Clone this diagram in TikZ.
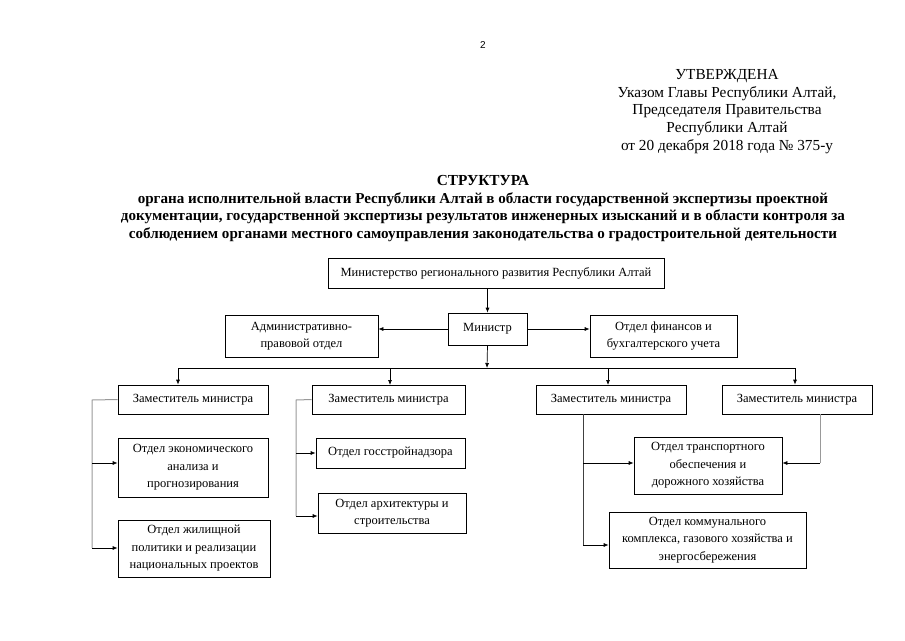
\documentclass[tikz,border=0pt]{standalone}
\usepackage{fontspec}
\setmainfont{Liberation Serif}
\setsansfont{Liberation Sans}
\usetikzlibrary{arrows.meta}
\begin{document}
\begin{tikzpicture}[x=1pt,y=-1pt,
  box/.style={draw=black,line width=0.7pt,rectangle,inner sep=0pt,align=center,font=\fontsize{12.5}{17.5}\selectfont},
  arr/.style={-{Latex[length=5pt,width=4pt]},line width=0.7pt},
  gline/.style={draw=gray!80,line width=1pt},
  hdr/.style={align=center,font=\fontsize{15.3}{17.6}\selectfont},
  ttl/.style={align=center,font=\bfseries\fontsize{15.1}{17.6}\selectfont}]
\path[use as bounding box,fill=white] (0,0) rectangle (905,640);
\node[font=\sffamily\fontsize{10}{10}\selectfont] (pg) at (483,45) {2};
\node[hdr,anchor=north] (appr) at (727,66) {УТВЕРЖДЕНА\\Указом Главы Республики Алтай,\\Председателя Правительства\\Республики Алтай\\от 20 декабря 2018 года № 375-у};
\node[ttl,anchor=north] (title) at (483,172) {\fontsize{15.3}{17.6}\selectfont СТРУКТУРА\\органа исполнительной власти Республики Алтай в области государственной экспертизы проектной\\документации, государственной экспертизы результатов инженерных изысканий и в области контроля за\\соблюдением органами местного самоуправления законодательства о градостроительной деятельности};

\node[box,minimum width=336pt,minimum height=30pt] (mr) at (496,273) {Министерство регионального развития Республики Алтай};
\node[box,minimum width=79pt,minimum height=32pt] (min) at (487.5,329) {Министр};
\node[box,minimum width=153pt,minimum height=42pt] (adm) at (301.5,336) {Административно-\\правовой отдел};
\node[box,minimum width=147pt,minimum height=42pt] (fin) at (663.5,336) {Отдел финансов и\\бухгалтерского учета};

\node[box,minimum width=150pt,minimum height=29pt] (z1) at (193,399.5) {Заместитель министра};
\node[box,minimum width=153pt,minimum height=29pt] (z2) at (388.5,399.5) {Заместитель министра};
\node[box,minimum width=150pt,minimum height=29pt] (z3) at (611,399.5) {Заместитель министра};
\node[box,minimum width=150pt,minimum height=29pt] (z4) at (797,399.5) {Заместитель министра};

\node[box,minimum width=150pt,minimum height=59pt] (econ) at (193,467.5) {Отдел экономического\\анализа и\\прогнозирования};
\node[box,minimum width=152pt,minimum height=57pt] (hous) at (194,548.5) {Отдел жилищной\\политики и реализации\\национальных проектов};
\node[box,minimum width=149pt,minimum height=30pt] (gos) at (390.5,453) {Отдел госстройнадзора};
\node[box,minimum width=148pt,minimum height=40pt] (arch) at (392,513) {Отдел архитектуры и\\строительства};
\node[box,minimum width=148pt,minimum height=57pt] (tran) at (708,465.5) {Отдел транспортного\\обеспечения и\\дорожного хозяйства};
\node[box,minimum width=197pt,minimum height=56pt] (komm) at (707.5,540) {Отдел коммунального\\комплекса, газового хозяйства и\\энергосбережения};

% top connectors
\draw[arr] (min.north |- mr.south) -- (min.north);
\draw[arr] (min.west) -- (min.west -| adm.east);
\draw[arr] (min.east) -- (min.east -| fin.west);
\coordinate (bar) at (487,368);
\coordinate (barL) at (178,368);
\coordinate (barR) at (795,368);
\draw[arr] (min.south) -- (bar);
\draw[line width=0.7pt] (barL) -- (barR);
\draw[arr] (barL) -- (barL |- z1.north);
\draw[arr] (390,368) -- (390,385);
\draw[arr] (608,368) -- (608,385);
\draw[arr] (barR) -- (barR |- z4.north);

% group 1
\coordinate (g1t) at (92,400);
\coordinate (g1a) at (92,463);
\coordinate (g1b) at (92,548);
\draw[gline] (z1.west) -- (g1t) -- (g1b);
\draw[arr] (g1a) -- (g1a -| econ.west);
\draw[arr] (g1b) -- (g1b -| hous.west);

% group 2
\coordinate (g2t) at (296,400);
\coordinate (g2a) at (296,453);
\coordinate (g2b) at (296,516);
\draw[gline] (z2.west) -- (g2t) -- (g2b);
\draw[arr] (g2a) -- (gos.west);
\draw[arr] (g2b) -- (g2b -| arch.west);

% group 3
\coordinate (g3t) at (583,414);
\coordinate (g3a) at (583,463);
\coordinate (g3b) at (583,545);
\draw[line width=0.8pt,draw=black!75] (g3t) -- (g3b);
\draw[arr] (g3a) -- (g3a -| tran.west);
\draw[arr] (g3b) -- (g3b -| komm.west);

% group 4
\coordinate (g4t) at (820,414);
\coordinate (g4a) at (820,463);
\draw[gline] (g4t) -- (g4a);
\draw[arr] (g4a) -- (g4a -| tran.east);
\end{tikzpicture}
\end{document}
